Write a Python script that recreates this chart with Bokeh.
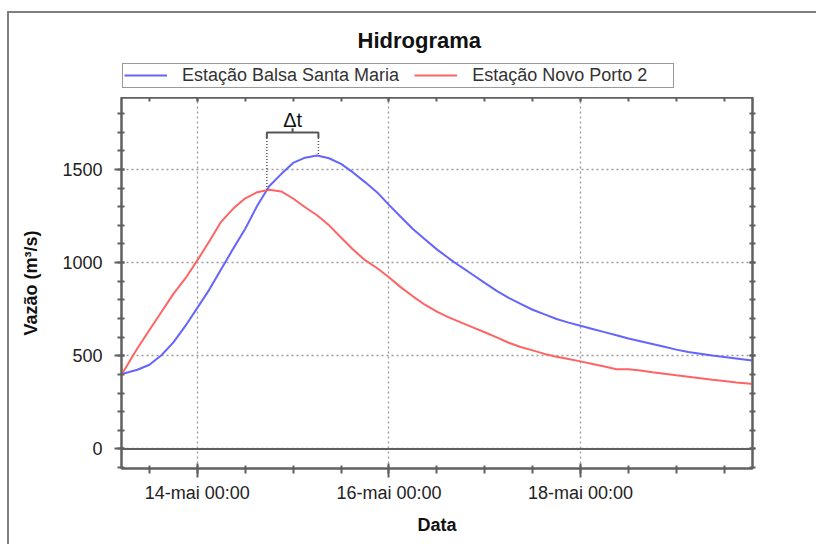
import pandas as pd
from datetime import datetime
from bokeh.plotting import figure
from bokeh.layouts import column
from bokeh.models import (Range1d, FixedTicker, DatetimeTickFormatter, LinearAxis,
                          DatetimeAxis, Span, Legend, LegendItem, ColumnDataSource)
from bokeh.core.properties import value
from bokeh.embed import file_html
from bokeh.resources import INLINE

# ---------------- data ----------------
title_text = "Hidrograma"
x_label = "Data"
y_label = "Vazão (m³/s)"
series_names = ["Estação Balsa Santa Maria", "Estação Novo Porto 2"]

# sample times: 13-mai 05:00, then every 3 h from 13-mai 06:00 to 19-mai 18:00, then 19:00
times = pd.DatetimeIndex(
    [pd.Timestamp("2013-05-13 05:00")]
    + list(pd.date_range("2013-05-13 06:00", "2013-05-19 18:00", freq="3h"))
    + [pd.Timestamp("2013-05-19 19:00")]
)

q_balsa = [401, 408, 425, 452, 503, 572, 660, 757, 855, 965, 1075, 1182, 1305, 1410,
           1475, 1535, 1563, 1575, 1560, 1530, 1484, 1432, 1378, 1310, 1245, 1180, 1125,
           1071, 1023, 978, 935, 891, 848, 811, 779, 747, 722, 697, 678, 661, 644, 627,
           610, 593, 578, 563, 548, 533, 520, 511, 501, 493, 485, 477, 474]
q_novo = [401, 433, 540, 638, 735, 832, 915, 1012, 1115, 1220, 1290, 1345, 1378, 1391,
          1382, 1344, 1297, 1254, 1200, 1135, 1070, 1013, 971, 921, 867, 819, 774, 737,
          706, 679, 652, 626, 599, 570, 547, 529, 510, 495, 483, 470, 456, 442, 428, 427,
          421, 412, 404, 395, 387, 379, 371, 364, 357, 351, 349]

x_major_ticks = ["2013-05-14 00:00", "2013-05-16 00:00", "2013-05-18 00:00"]
y_major_ticks = [0, 500, 1000, 1500]
y_minor_ticks = list(range(-100, 1900, 100))

x_start = datetime(2013, 5, 13, 5, 0)
x_end = datetime(2013, 5, 19, 19, 5)
y_start, y_end = -105, 1886

# delta-t annotation (between the two peaks)
dt_label = "Δt"
dt_left = "2013-05-14 17:25"
dt_right = "2013-05-15 06:20"
dt_mid = "2013-05-14 23:52"
bracket_top = 1698
bracket_end = 1668
bracket_tick = 1721
dt_text_y = 1765
left_drop = 1390
right_drop = 1577


def ms(s):
    return pd.Timestamp(s).value // 10**6


x_minor_ticks = [ms(t) for t in pd.date_range("2013-05-12 12:00", "2013-05-20 12:00", freq="12h")]
x_major_ms = [ms(t) for t in x_major_ticks]

FONT = "Liberation Sans"
AX = "#606060"
BLUE = "#6464ff"
RED = "#ff6464"

src = ColumnDataSource(data=dict(t=times, balsa=q_balsa, novo=q_novo))

# ---------------- header: title + legend ----------------
head = figure(width=807, height=84, x_range=Range1d(0, 1), y_range=Range1d(0, 1),
              x_axis_location=None, y_axis_location=None,
              output_backend="svg", toolbar_location=None,
              min_border_left=0, min_border_right=0, min_border_bottom=0, min_border_top=39,
              outline_line_color=None, background_fill_color="white", border_fill_color="white")
head.grid.visible = False
head.title.text = title_text
head.title.align = "left"
head.title.offset = 236
head.title.standoff = 0
head.title.text_font = FONT
head.title.text_font_size = "22px"
head.title.text_font_style = "bold"
head.title.text_color = "#111111"

# legend samples (same series; they fall outside this header's ranges)
h_blue = head.line("t", "balsa", source=src, line_color=BLUE, line_width=2)
h_red = head.line("t", "novo", source=src, line_color=RED, line_width=2)
legend = Legend(items=[LegendItem(label=series_names[0], renderers=[h_blue]),
                       LegendItem(label=series_names[1], renderers=[h_red])],
                orientation="horizontal", location=(1, 9.5),
                border_line_color="#333333", border_line_width=1.5,
                background_fill_color="white", background_fill_alpha=1,
                padding=1, spacing=15, margin=0, label_standoff=15,
                glyph_width=43, glyph_height=18, label_height=18, label_width=200,
                label_text_font=FONT, label_text_font_size="18px", label_text_color="#333333")
head.add_layout(legend)

# ---------------- main plot ----------------
p = figure(width=807, height=447, x_axis_type="datetime", title_location=None,
           x_range=Range1d(start=x_start, end=x_end),
           y_range=Range1d(start=y_start, end=y_end),
           output_backend="svg", toolbar_location=None,
           min_border_left=112, min_border_right=64, min_border_top=0, min_border_bottom=76,
           background_fill_color="white", border_fill_color="white")

p.outline_line_color = AX
p.outline_line_width = 2

fmt_str = "%d-mai %H:%M"
fmt = DatetimeTickFormatter(microseconds=fmt_str, milliseconds=fmt_str, seconds=fmt_str,
                            minsec=fmt_str, minutes=fmt_str, hourmin=fmt_str, hours=fmt_str,
                            days=fmt_str, months=fmt_str, years=fmt_str)

xax = p.xaxis[0]
xax.ticker = FixedTicker(ticks=x_major_ms, minor_ticks=x_minor_ticks)
xax.formatter = fmt
xax.axis_label = x_label
yax = p.yaxis[0]
yax.ticker = FixedTicker(ticks=y_major_ticks, minor_ticks=y_minor_ticks)
yax.axis_label = y_label

for ax in (xax, yax):
    ax.axis_line_color = AX
    ax.axis_line_width = 2
    ax.major_tick_line_color = AX
    ax.major_tick_line_width = 2
    ax.minor_tick_line_color = AX
    ax.minor_tick_line_width = 2
    ax.major_label_text_font = FONT
    ax.major_label_text_font_size = "18px"
    ax.major_label_text_color = "#222222"
    ax.axis_label_text_font = FONT
    ax.axis_label_text_font_size = "18px"
    ax.axis_label_text_font_style = "bold"
    ax.axis_label_text_color = "#111111"

xax.major_tick_in, xax.major_tick_out = 5, 9
xax.minor_tick_in, xax.minor_tick_out = 3, 5
xax.major_label_standoff = 5
xax.axis_label_standoff = 9
yax.major_tick_in, yax.major_tick_out = 3, 7
yax.minor_tick_in, yax.minor_tick_out = 3, 4
yax.major_label_standoff = 12
yax.axis_label_standoff = 18

# right and top axes: ticks only, labels not drawn
rax = LinearAxis(ticker=FixedTicker(ticks=y_major_ticks, minor_ticks=y_minor_ticks),
                 major_label_text_color=None, major_label_text_font_size="0px",
                 major_label_standoff=0,
                 axis_line_color=AX, axis_line_width=2,
                 major_tick_line_color=AX, major_tick_line_width=2,
                 minor_tick_line_color=AX, minor_tick_line_width=2,
                 major_tick_in=3, major_tick_out=3, minor_tick_in=3, minor_tick_out=3)
p.add_layout(rax, "right")
tax = DatetimeAxis(ticker=FixedTicker(ticks=x_major_ms, minor_ticks=x_minor_ticks),
                   major_label_text_color=None, major_label_text_font_size="0px",
                   major_label_standoff=0,
                   axis_line_color=AX, axis_line_width=2,
                   major_tick_line_color=AX, major_tick_line_width=2,
                   minor_tick_line_color=AX, minor_tick_line_width=2,
                   major_tick_in=4, major_tick_out=0, minor_tick_in=4, minor_tick_out=0)
p.add_layout(tax, "above")

# grids
for g in (p.xgrid[0], p.ygrid[0]):
    g.grid_line_color = "#9a9a9a"
    g.grid_line_dash = "2 3"
    g.grid_line_width = 1.3

p.add_layout(Span(location=0, dimension="width", line_color=AX, line_width=2))

r_blue = p.line("t", "balsa", source=src, line_color=BLUE, line_width=2)
r_red = p.line("t", "novo", source=src, line_color=RED, line_width=2)

# delta-t bracket
L, R, M = pd.Timestamp(dt_left), pd.Timestamp(dt_right), pd.Timestamp(dt_mid)
p.multi_line(xs=[[L, L, R, R], [M, M]],
             ys=[[bracket_end, bracket_top, bracket_top, bracket_end], [bracket_top, bracket_tick]],
             line_color="#555555", line_width=2)
p.segment(x0=[L, R], y0=[bracket_end, bracket_end], x1=[L, R], y1=[left_drop, right_drop],
          line_color="#555555", line_width=1.5, line_dash="1 2")
p.text(x=[M], y=[dt_text_y], text=[dt_label], text_align="center", text_baseline="middle",
       text_font=value(FONT), text_font_size="20px", text_color="#111111")

layout = column(head, p, spacing=0, margin=(11, 0, 0, 7),
                styles={"border-top": "2px solid #7f7f7f", "border-left": "2px solid #7f7f7f"})

open("out.html", "w").write(file_html(layout, INLINE))
